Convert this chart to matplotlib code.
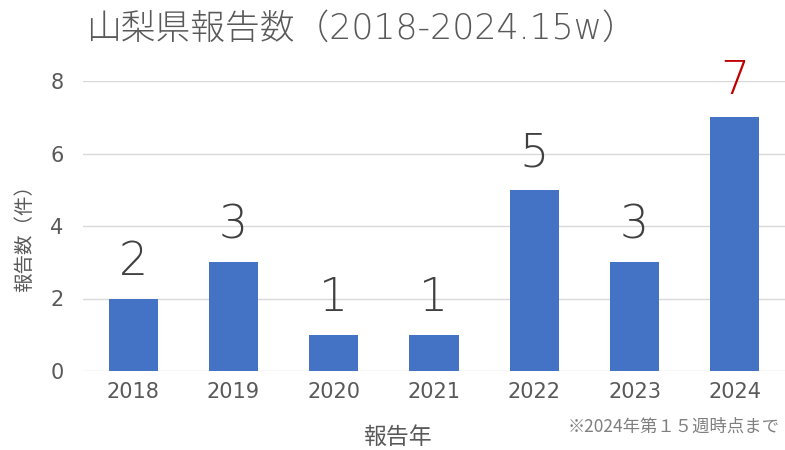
import matplotlib.pyplot as plt

plt.rcParams['font.family'] = ['DejaVu Sans', 'Noto Sans CJK JP']

years = ['2018', '2019', '2020', '2021', '2022', '2023', '2024']
counts = [2, 3, 1, 1, 5, 3, 7]
label_colors = ['#404040'] * 6 + ['#c00000']

gray = '#595959'
fig = plt.figure(figsize=(7.85, 4.5), dpi=100)
ax = fig.add_axes([83 / 785, 1 - 371 / 450, 702 / 785, 290 / 450])

ax.bar(range(len(years)), counts, width=0.49, color='#4472c4', zorder=3)
for i, (v, c) in enumerate(zip(counts, label_colors)):
    ax.text(i, v + 0.4, str(v), ha='center', va='bottom', fontsize=33,
            color=c, fontweight='light')

ax.set_xlim(-0.5, 6.5)
ax.set_ylim(0, 8)
ax.set_yticks([0, 2, 4, 6, 8])
ax.set_xticks(range(len(years)))
ax.set_xticklabels(years)
ax.grid(axis='y', color='#d9d9d9', linewidth=1, zorder=0)
for s in ax.spines.values():
    s.set_visible(False)
ax.tick_params(length=0, labelsize=15, colors=gray)
ax.tick_params(axis='y', pad=14)
ax.tick_params(axis='x', pad=8)

# title in the light weight, close to the thin font of the original
fig.text(86 / 785, 1 - 29 / 450, '山梨県報告数（2018-2024.15w）', fontsize=25,
         color=gray, va='center', ha='left', fontweight='light')
fig.text(25 / 785, 1 - 233 / 450, '報告数（件）', fontsize=14, color=gray,
         rotation=90, va='center', ha='center',
         family=['Noto Sans CJK JP', 'DejaVu Sans'])
fig.text(397 / 785, 1 - 437 / 450, '報告年', fontsize=16.5, color=gray,
         va='center', ha='center', family=['Noto Sans CJK JP', 'DejaVu Sans'])
fig.text(780 / 785, 1 - 427 / 450, '※2024年第１５週時点まで', fontsize=12.5,
         color='#7f7f7f', va='center', ha='right',
         family=['Noto Sans CJK JP', 'DejaVu Sans'])

fig.savefig('out.png', dpi=100)
